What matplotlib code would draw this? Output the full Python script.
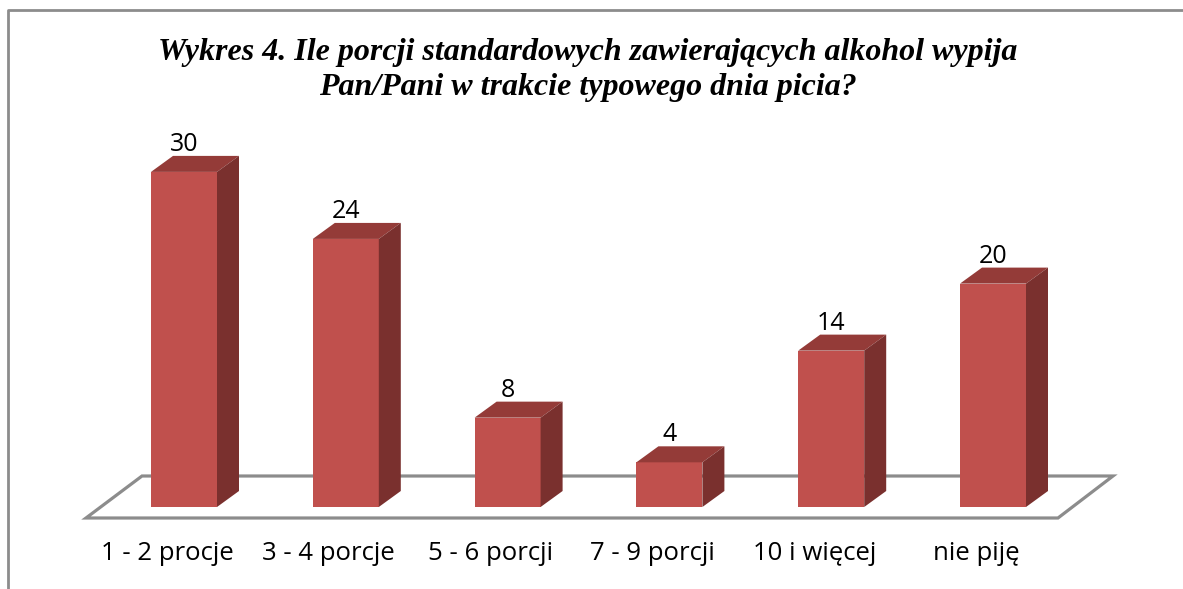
import matplotlib.pyplot as plt
from matplotlib.patches import Polygon
import numpy as np

categories = ['1 - 2 procje', '3 - 4 porcje', '5 - 6 porcji', '7 - 9 porcji', '10 i więcej', 'nie piję']
values = [30, 24, 8, 4, 14, 20]
title = 'Wykres 4. Ile porcji standardowych zawierających alkohol wypija\nPan/Pani w trakcie typowego dnia picia?'

W, H = 1183, 589
fig = plt.figure(figsize=(W / 100, H / 100), dpi=100)
ax = fig.add_axes([0, 0, 1, 1])
ax.axis('off')

# pixel scale of the chart: one category = 161.8 px, one unit = 11.17 px
px_x = 161.8
px_y = 11.17
x0_px, base_px = 184, 507
ax.set_xlim(-x0_px / px_x, (W - x0_px) / px_x)
ax.set_ylim((base_px - H) / px_y, base_px / px_y)

front_c = '#C0504D'
top_c = '#943B38'
side_c = '#7A302E'
floor_c = '#8C8C8C'

bw = 66 / px_x
dx = 22 / px_x
dy = 16 / px_y

# floor
fl = [(-98 / px_x, -11 / px_y), (874 / px_x, -11 / px_y),
      (929 / px_x, 31 / px_y), (-42 / px_x, 31 / px_y)]
ax.add_patch(Polygon(fl, closed=True, fill=False, edgecolor=floor_c, lw=2.3, zorder=1))

x = np.arange(len(values))
for xi, v in zip(x, values):
    l, r = xi - bw / 2, xi + bw / 2
    ax.add_patch(Polygon([(l, 0), (r, 0), (r, v), (l, v)], closed=True,
                         facecolor=front_c, edgecolor='none', zorder=3))
    ax.add_patch(Polygon([(l, v), (r, v), (r + dx, v + dy), (l + dx, v + dy)], closed=True,
                         facecolor=top_c, edgecolor='none', zorder=3))
    ax.add_patch(Polygon([(r, 0), (r + dx, dy), (r + dx, v + dy), (r, v)], closed=True,
                         facecolor=side_c, edgecolor='none', zorder=3))
    ax.text(xi, v + dy - 0.1, str(v), ha='center', va='bottom',
            fontsize=18, family='Open Sans', color='black', zorder=4)

for xi, c in zip(x, categories):
    ax.text(xi - 17 / px_x, -46 / px_y, c, ha='center', va='center',
            fontsize=18.5, family='Open Sans', color='black')

fig.text(588 / W, 1 - 70 / H, title, ha='center', va='center', fontsize=23,
         family='Liberation Serif', fontweight='bold', fontstyle='italic',
         linespacing=1.3)

# chart frame (top and left edges visible)
fig.add_artist(plt.Line2D([8 / W, 8 / W, 1], [0, 1 - 10 / H, 1 - 10 / H],
                          color='#8C8C8C', lw=2, transform=fig.transFigure))

fig.savefig('out.png', dpi=100)
